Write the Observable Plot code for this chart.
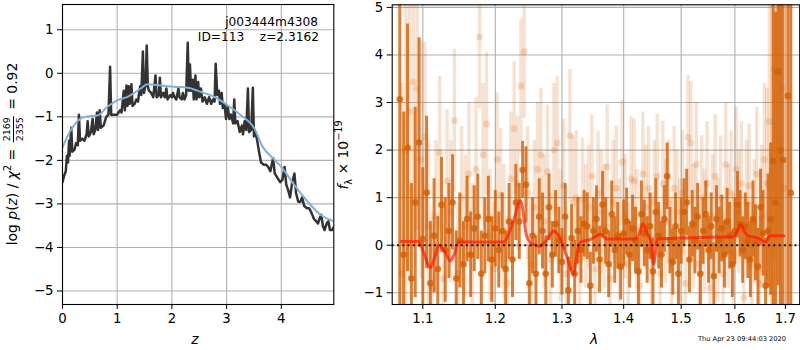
<!DOCTYPE html>
<html>
<head>
<meta charset="utf-8">
<script src="https://cdn.jsdelivr.net/npm/d3@7"></script>
<script src="https://cdn.jsdelivr.net/npm/@observablehq/plot@0.6"></script>
<style>
  body { margin: 0; background: #fff; }
  #wrap { position: relative; width: 800px; height: 350px; font-family: "DejaVu Sans", sans-serif; color: #000; overflow: hidden; }
  #wrap svg { position: absolute; top: 0; overflow: visible; }
  .lab { position: absolute; white-space: nowrap; font-size: 13.9px; line-height: 1; }
  .rot { transform: translate(-50%, -50%) rotate(-90deg); }
  .frac { display: inline-flex; flex-direction: column; align-items: center; vertical-align: middle; font-size: 9.5px; line-height: 1; margin: 0 2px; }
  .frac .num { border-bottom: 1px solid #000; padding: 0 1px 1px 1px; }
  .frac .den { padding-top: 1px; }
  sup, sub { font-size: 9.7px; line-height: 0; }
</style>
</head>
<body>
<div id="wrap"></div>
<script>
// ---------- left panel: log p(z) ----------
const pzZ = [0.00,0.03,0.06,0.08,0.10,0.12,0.13,0.16,0.18,0.22,0.25,0.28,0.30,0.32,0.36,0.40,0.44,0.46,0.48,0.52,0.55,0.57,0.60,0.63,0.65,0.68,0.70,0.75,0.80,0.84,0.87,0.89,0.95,1.00,1.05,1.08,1.12,1.14,1.17,1.19,1.21,1.23,1.26,1.28,1.32,1.35,1.38,1.40,1.42,1.44,1.47,1.49,1.52,1.54,1.56,1.58,1.62,1.66,1.70,1.72,1.76,1.78,1.80,1.84,1.87,1.90,1.92,1.97,2.00,2.02,2.05,2.08,2.12,2.14,2.18,2.20,2.23,2.26,2.29,2.31,2.33,2.35,2.38,2.40,2.43,2.45,2.48,2.50,2.53,2.56,2.60,2.64,2.68,2.72,2.75,2.78,2.80,2.83,2.86,2.88,2.91,2.93,2.96,2.99,3.02,3.05,3.08,3.12,3.14,3.16,3.20,3.24,3.28,3.30,3.33,3.36,3.39,3.41,3.45,3.48,3.50,3.53,3.56,3.60,3.63,3.68,3.72,3.76,3.80,3.85,3.88,3.93,3.98,4.02,4.06,4.09,4.13,4.16,4.20,4.24,4.27,4.31,4.35,4.38,4.42,4.47,4.51,4.55,4.60,4.64,4.67,4.71,4.73,4.76,4.79,4.83,4.86,4.89,4.93,4.97];
const pzLogP = [-2.50,-2.35,-2.25,-1.90,-2.05,-1.55,-1.90,-1.25,-1.80,-1.75,-1.60,-1.65,-0.95,-1.55,-1.50,-1.55,-1.40,-1.10,-1.45,-1.35,-1.05,-1.40,-1.30,-0.90,-1.30,-0.85,-1.25,-1.20,-1.00,-0.95,0.15,-0.95,-0.95,-0.95,-0.85,-0.90,-0.40,-0.85,-0.28,-0.75,-0.30,-0.70,-0.25,-0.75,-0.70,-0.60,-0.65,-0.45,-0.30,-0.50,0.50,-0.45,-0.25,0.64,-0.30,-0.40,-0.45,-0.55,-0.05,-0.55,-0.50,-0.10,-0.55,-0.45,-0.55,-0.35,-0.60,-0.50,-0.55,-0.45,-0.55,-0.60,-0.35,-0.55,-0.60,-0.45,-0.60,-0.50,0.70,-0.40,0.20,-0.40,-0.15,-0.60,-0.05,-0.60,-0.20,-0.55,-0.35,-0.65,-0.55,-0.70,-0.55,-0.70,-0.60,-0.65,0.22,-0.50,-0.40,-0.70,-0.45,-0.80,-0.70,-1.05,-0.75,-1.05,-0.95,-1.15,-0.60,-1.15,-1.10,-1.35,-1.20,-1.40,-1.10,-1.30,-0.35,-1.35,-1.30,-0.33,-1.45,-1.35,-1.55,-1.85,-2.05,-2.10,-2.10,-2.15,-2.25,-1.95,-2.30,-2.40,-2.50,-2.45,-2.15,-2.55,-2.70,-2.85,-2.50,-2.30,-2.75,-2.95,-2.95,-2.85,-3.05,-3.10,-3.10,-3.20,-3.35,-3.40,-3.45,-3.30,-3.25,-3.50,-3.60,-3.45,-3.40,-3.60,-3.60,-3.50];
const priorZ = [0.00,0.15,0.33,0.45,0.64,0.82,1.00,1.19,1.43,1.55,1.80,2.04,2.29,2.53,2.78,3.02,3.27,3.51,3.66,3.82,4.00,4.24,4.49,4.73,4.97];
const priorLogP = [-1.70,-1.31,-1.04,-0.99,-0.97,-0.77,-0.62,-0.54,-0.35,-0.25,-0.28,-0.31,-0.33,-0.43,-0.54,-0.74,-0.97,-1.27,-1.69,-1.92,-2.15,-2.57,-2.96,-3.26,-3.40];
const zTicks = [0, 1, 2, 3, 4];
const logpTicks = [-5, -4, -3, -2, -1, 0, 1];

// ---------- right panel: spectrum ----------
const specLam = [1.070,1.075,1.080,1.085,1.090,1.095,1.100,1.105,1.110,1.115,1.120,1.125,1.130,1.135,1.140,1.145,1.150,1.155,1.160,1.165,1.170,1.175,1.180,1.185,1.190,1.195,1.200,1.205,1.210,1.215,1.220,1.225,1.230,1.235,1.240,1.245,1.250,1.255,1.260,1.265,1.270,1.275,1.280,1.285,1.290,1.295,1.300,1.305,1.310,1.315,1.320,1.325,1.330,1.335,1.340,1.345,1.350,1.355,1.360,1.365,1.370,1.375,1.380,1.385,1.390,1.395,1.400,1.405,1.410,1.415,1.420,1.425,1.430,1.435,1.440,1.445,1.450,1.455,1.460,1.465,1.470,1.475,1.480,1.485,1.490,1.495,1.500,1.505,1.510,1.515,1.520,1.525,1.530,1.535,1.540,1.545,1.550,1.555,1.560,1.565,1.570,1.575,1.580,1.585,1.590,1.595,1.600,1.605,1.610,1.615,1.620,1.625,1.630,1.635,1.640,1.645,1.650,1.655,1.660,1.665,1.670,1.675,1.680,1.685,1.690,1.695,1.705,1.711];
const specFlux = [3.07,-0.20,2.05,-0.70,0.90,2.16,0.13,1.11,-0.80,0.20,-0.50,0.85,-0.10,0.30,0.90,-0.70,0.10,-0.40,0.55,-0.20,0.35,0.60,-0.60,0.20,0.55,-0.30,0.35,-0.10,0.30,-0.50,0.50,-0.30,0.90,0.50,1.58,1.27,-0.80,0.20,-0.60,0.60,0.30,-0.60,0.80,-0.20,0.45,0.10,-0.35,0.60,-0.95,0.15,-0.60,0.30,-0.10,0.45,0.40,-0.85,0.30,0.55,-0.30,0.85,0.30,-0.40,0.65,-0.10,0.20,-0.45,0.25,0.50,-0.20,0.35,0.10,-0.55,0.65,0.25,-0.10,0.40,-0.55,0.70,0.20,-0.20,0.55,1.45,0.10,-0.35,0.40,-0.60,0.30,0.70,0.90,-0.30,0.45,0.10,0.60,-0.60,0.30,0.65,-0.10,0.40,-0.65,0.55,0.10,0.35,-0.20,0.50,0.20,-0.40,0.30,0.85,0.45,-0.10,0.40,0.10,-0.30,0.55,0.05,-0.45,0.80,0.25,-0.85,0.30,0.55,1.77,0.90,3.65,2.00,1.79,3.14,1.10];
const specErr = [4.5,3.0,2.6,2.0,2.0,2.2,1.5,1.6,1.3,1.2,1.1,1.0,1.1,1.0,1.0,1.0,1.0,0.9,0.9,0.9,0.9,0.9,0.9,0.8,0.9,0.9,0.8,0.8,0.8,0.8,0.8,0.8,0.8,0.8,0.6,0.8,0.8,0.8,0.8,0.8,0.8,0.8,0.7,0.7,0.7,0.7,0.7,0.7,0.7,0.7,0.7,0.7,0.7,0.7,0.7,0.7,0.7,0.7,0.7,0.7,0.7,0.7,0.7,0.7,0.7,0.7,0.7,0.7,0.7,0.7,0.7,0.7,0.7,0.7,0.7,0.7,0.7,0.7,0.7,0.7,0.7,0.7,0.7,0.7,0.7,0.7,0.7,0.7,0.7,0.7,0.7,0.7,0.7,0.7,0.7,0.7,0.7,0.7,0.7,0.7,0.7,0.7,0.7,0.7,0.7,0.7,0.7,0.7,0.7,0.7,0.7,0.8,0.8,0.8,0.8,0.8,0.8,0.9,1.0,1.2,1.6,3.5,4.0,4.5,4.0,5.0,6.0,7.0];

const spec2Lam = [1.0725,1.0775,1.0825,1.0875,1.0925,1.0975,1.1025,1.1075,1.1125,1.1175,1.1225,1.1275,1.1325,1.1375,1.1425,1.1475,1.1525,1.1575,1.1625,1.1675,1.1725,1.1775,1.1825,1.1875,1.1925,1.1975,1.2025,1.2075,1.2125,1.2175,1.2225,1.2275,1.2325,1.2375,1.2425,1.2475,1.2525,1.2575,1.2625,1.2675,1.2725,1.2775,1.2825,1.2875,1.2925,1.2975,1.3025,1.3075,1.3125,1.3175,1.3225,1.3275,1.3325,1.3375,1.3425,1.3475,1.3525,1.3575,1.3625,1.3675,1.3725,1.3775,1.3825,1.3875,1.3925,1.3975,1.4025,1.4075,1.4125,1.4175,1.4225,1.4275,1.4325,1.4375,1.4425,1.4475,1.4525,1.4575,1.4625,1.4675,1.4725,1.4775,1.4825,1.4875,1.4925,1.4975,1.5025,1.5075,1.5125,1.5175,1.5225,1.5275,1.5325,1.5375,1.5425,1.5475,1.5525,1.5575,1.5625,1.5675,1.5725,1.5775,1.5825,1.5875,1.5925,1.5975,1.6025,1.6075,1.6125,1.6175,1.6225,1.6275,1.6325,1.6375,1.6425,1.6475,1.6525,1.6575,1.6625,1.6675,1.6725,1.6775,1.6825,1.6875,1.6925,1.6975];
const spec2Flux = [-0.60,2.00,2.80,3.43,3.30,1.80,2.27,0.40,-0.90,0.60,1.95,-0.70,1.35,0.70,2.62,-0.60,1.00,0.40,1.50,-0.20,1.60,4.38,1.90,2.55,0.20,-0.50,1.80,1.05,0.30,-0.80,1.40,2.45,1.30,3.35,4.07,1.10,-0.40,0.80,1.60,1.90,0.50,1.55,-0.30,2.00,2.15,0.20,1.25,-0.60,2.30,0.90,1.00,-0.30,0.95,0.40,0.80,1.45,-0.50,1.10,0.70,0.40,1.65,-0.70,0.90,1.20,0.10,1.75,0.60,-0.40,1.40,1.35,0.30,-0.85,1.50,0.80,1.20,-0.20,0.90,1.45,-0.60,1.30,0.50,0.90,-0.30,1.20,0.70,0.10,1.10,-0.80,2.27,2.15,0.40,1.70,-0.40,1.00,0.30,1.30,-0.90,0.60,1.45,0.10,1.00,-0.60,1.70,0.40,1.10,-0.20,1.60,0.70,1.30,-1.10,0.90,1.25,-0.40,0.50,1.50,-0.80,0.60,1.80,1.30,2.60,1.55,3.70,4.10,2.20,3.30,1.20];
const spec2Err = [4.0,4.0,3.5,3.5,3.0,2.5,2.0,1.8,1.6,1.6,1.6,1.5,1.5,1.5,1.5,1.5,1.5,1.5,1.5,1.5,1.5,1.5,1.5,1.5,1.4,1.4,1.4,1.4,1.4,1.4,1.4,1.4,1.4,1.4,1.4,1.4,1.4,1.4,1.4,1.4,1.4,1.4,1.4,1.4,1.4,1.4,1.4,1.4,1.4,1.4,1.4,1.3,1.3,1.3,1.3,1.3,1.3,1.3,1.3,1.3,1.3,1.3,1.3,1.3,1.3,1.3,1.3,1.3,1.3,1.3,1.3,1.3,1.3,1.3,1.3,1.3,1.3,1.3,1.3,1.3,1.3,1.3,1.3,1.3,1.3,1.3,1.3,1.3,1.3,1.3,1.3,1.3,1.3,1.3,1.3,1.3,1.3,1.3,1.3,1.3,1.3,1.3,1.3,1.3,1.3,1.3,1.3,1.3,1.3,1.3,1.3,1.3,1.3,1.3,1.4,1.4,1.5,1.6,2.0,3.0,4.0,4.0,4.0,4.0,3.0];

const modelLam = [1.072,1.095,1.100,1.110,1.115,1.121,1.130,1.137,1.142,1.148,1.160,1.212,1.225,1.237,1.246,1.255,1.266,1.276,1.287,1.297,1.308,1.318,1.325,1.330,1.345,1.362,1.372,1.385,1.418,1.425,1.433,1.440,1.446,1.451,1.458,1.500,1.550,1.598,1.605,1.611,1.618,1.625,1.645,1.660,1.669,1.697];
const modelFlux = [0.08,0.08,-0.10,-0.47,-0.30,0.00,-0.15,-0.33,-0.20,0.07,0.07,0.07,0.45,0.93,0.20,0.02,-0.02,0.10,0.30,0.15,-0.25,-0.61,-0.10,0.07,0.12,0.23,0.13,0.13,0.13,0.20,0.45,0.25,0.10,-0.40,0.13,0.15,0.17,0.18,0.30,0.43,0.30,0.20,0.15,0.07,0.20,0.20];

const lamTicks = [1.1, 1.2, 1.3, 1.4, 1.5, 1.6, 1.7];
const fluxTicks = [-1, 0, 1, 2, 3, 4, 5];
const zeroLevel = [0];

// ---------- build ----------
const wrap = document.getElementById("wrap");
const font = {fontFamily: "DejaVu Sans, sans-serif", fontSize: "13.3px", background: "transparent", overflow: "visible"};
const gridColor = "#b0b0b0";

const pz = pzZ.map((z, i) => ({z, lp: pzLogP[i]}));
const prior = priorZ.map((z, i) => ({z, lp: priorLogP[i]}));

const left = Plot.plot({
  width: 340, height: 350,
  marginLeft: 62, marginRight: 6.7, marginTop: 4, marginBottom: 46,
  style: font,
  x: {domain: [0, 4.96], label: null},
  y: {domain: [-5.31, 1.58], label: null},
  marks: [
    Plot.gridX(zTicks, {stroke: gridColor, strokeOpacity: 1, strokeWidth: 1.1}),
    Plot.gridY(logpTicks, {stroke: gridColor, strokeOpacity: 1, strokeWidth: 1.1}),
    Plot.line(pz, {x: "z", y: "lp", stroke: "#333333", strokeWidth: 2.5, strokeLinejoin: "round", clip: true}),
    Plot.line(prior, {x: "z", y: "lp", stroke: "#7fb1d8", strokeWidth: 2, curve: "monotone-x", clip: true}),
    Plot.frame({stroke: "#000", strokeWidth: 1.1}),
    Plot.axisX(zTicks, {tickSize: 5, tickPadding: 4, label: null, tickFormat: d3.format("d")}),
    Plot.axisY(logpTicks, {tickSize: 5, tickPadding: 4, label: null, tickFormat: d3.format("d")})
  ]
});
left.style.left = "0px";
wrap.appendChild(left);

const spec = specLam.map((lam, i) => ({lam, f: specFlux[i], e: specErr[i]}));
const spec2 = spec2Lam.map((lam, i) => ({lam, f: spec2Flux[i], e: spec2Err[i]}));
const model = modelLam.map((lam, i) => ({lam, f: modelFlux[i]}));
const orange = "#d55e00";

const right = Plot.plot({
  width: 465, height: 350,
  marginLeft: 56.7, marginRight: 0.8, marginTop: 4.3, marginBottom: 46,
  style: font,
  x: {type: "log", domain: [1.0603, 1.7294], label: null},
  y: {domain: [-1.246, 5.055], label: null},
  marks: [
    Plot.gridX(lamTicks, {stroke: gridColor, strokeOpacity: 1, strokeWidth: 1.1}),
    Plot.gridY(fluxTicks, {stroke: gridColor, strokeOpacity: 1, strokeWidth: 1.1}),
    Plot.ruleX(spec2, {x: "lam", y1: d => d.f - d.e, y2: d => d.f + d.e, stroke: orange, strokeOpacity: 0.18, strokeWidth: 3.5, clip: true}),
    Plot.dot(spec2, {x: "lam", y: "f", r: 3.5, fill: orange, fillOpacity: 0.2, stroke: "none", clip: true}),
    Plot.ruleX(spec, {x: "lam", y1: d => d.f - d.e, y2: d => d.f + d.e, stroke: orange, strokeOpacity: 0.8, strokeWidth: 3, clip: true}),
    Plot.dot(spec, {x: "lam", y: "f", r: 3.3, fill: orange, fillOpacity: 0.8, stroke: "none", clip: true}),
    Plot.line(model, {x: "lam", y: "f", stroke: "#ff1a00", strokeOpacity: 0.7, strokeWidth: 3, curve: "monotone-x", clip: true}),
    Plot.ruleY(zeroLevel, {stroke: "#000", strokeOpacity: 0.85, strokeWidth: 2, strokeDasharray: "2,3.3"}),
    Plot.frame({stroke: "#000", strokeWidth: 1.1}),
    Plot.axisX(lamTicks, {tickSize: 5, tickPadding: 4, label: null, tickFormat: d3.format(".1f")}),
    Plot.axisY(fluxTicks, {tickSize: 5, tickPadding: 4, label: null, tickFormat: d3.format("d")})
  ]
});
right.style.left = "335px";
wrap.appendChild(right);

// ---------- text ----------
function addLabel(html, x, y, cls, extra) {
  const d = document.createElement("div");
  d.className = "lab " + (cls || "");
  d.innerHTML = html;
  d.style.left = x + "px";
  d.style.top = y + "px";
  if (extra) Object.assign(d.style, extra);
  wrap.appendChild(d);
  return d;
}
addLabel('log <i>p</i>(<i>z</i>) / <i>χ</i><sup>2</sup> = <span class="frac"><span class="num">2169</span><span class="den">2355</span></span> = 0.92', 13, 154, "rot");
addLabel('<i>z</i>', 195, 340, "", {transform: "translate(-50%,-50%)"});
addLabel('<i>f</i><sub>λ</sub> × 10<sup>−19</sup>', 344, 155, "rot");
addLabel('<i>λ</i>', 594, 340, "", {transform: "translate(-50%,-50%)"});
addLabel('j003444m4308', 318, 22, "", {transform: "translate(-100%,-50%)", fontSize: "12.2px"});
addLabel('ID=113&nbsp;&nbsp;&nbsp;&nbsp;z=2.3162', 319, 37, "", {transform: "translate(-100%,-50%)", fontSize: "12.2px"});
addLabel('Thu Apr 23 09:44:03 2020', 742, 339, "", {transform: "translate(-50%,-50%)", fontSize: "6.7px"});
</script>
</body>
</html>
